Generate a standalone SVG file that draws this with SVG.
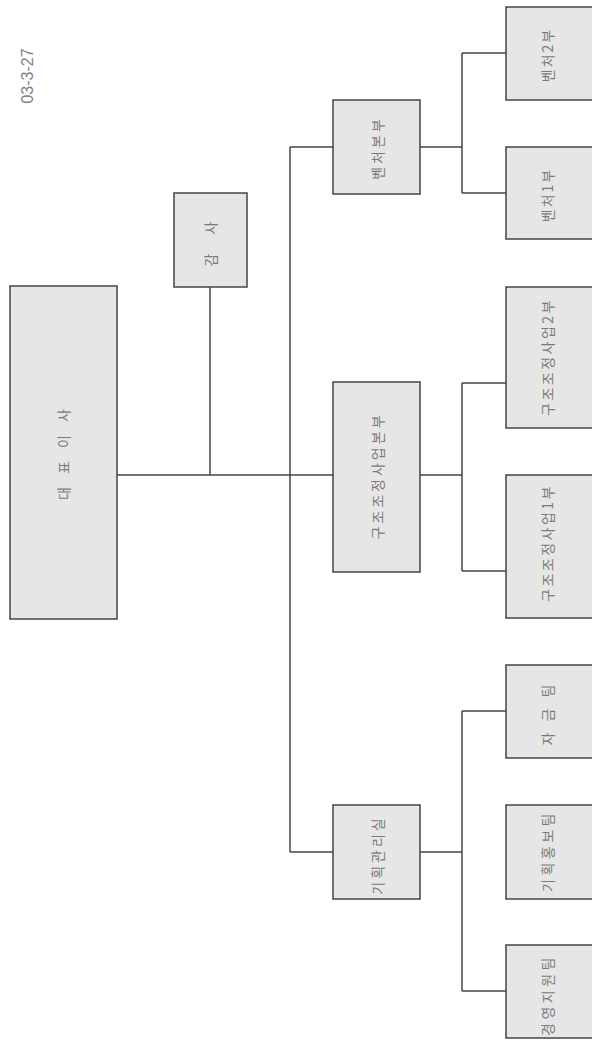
<svg xmlns="http://www.w3.org/2000/svg" width="592" height="1041" viewBox="0 0 592 1041">
<style>
.box{fill:#e6e6e6;stroke:#444;stroke-width:1.5}
.lbl{font-family:"Noto Sans CJK KR","Noto Sans",sans-serif;font-size:14px;fill:#7a7a7a;text-anchor:middle;dominant-baseline:central;letter-spacing:3px}
.con{fill:none;stroke:#444;stroke-width:1.5}
</style>
<rect width="592" height="1041" fill="#ffffff"/>
<text x="27" y="76" transform="rotate(-90 27 76)" font-family="Liberation Sans, Arial, sans-serif" font-size="16" fill="#808080" text-anchor="middle" dominant-baseline="central">03-3-27</text>
<g id="connectors">
<path class="con" d="M117 475 H290"/>
<path class="con" d="M210 287 V475"/>
<path class="con" d="M290 147 V852"/>
<path class="con" d="M290 147 H333"/>
<path class="con" d="M290 475 H333"/>
<path class="con" d="M290 852 H333"/>
<path class="con" d="M420 147 H462 M462 53 V193 M462 53 H506 M462 193 H506"/>
<path class="con" d="M420 475 H462 M462 383 V571 M462 383 H506 M462 571 H506"/>
<path class="con" d="M420 852 H462 M462 711 V991 M462 711 H506 M462 991 H506"/>
</g>
<g id="ceo"><rect class="box" x="10" y="286" width="107" height="333"/><text class="lbl" x="63" y="452" transform="rotate(-90 63 452)" style="letter-spacing:5px">대 표 이 사</text></g>
<g id="audit"><rect class="box" x="174" y="193" width="73" height="94"/><text class="lbl" x="210" y="240" transform="rotate(-90 210 240)" style="letter-spacing:8px">감 사</text></g>
<g id="venture-hq"><rect class="box" x="333" y="100" width="87" height="94"/><text class="lbl" x="377" y="148" transform="rotate(-90 377 148)">벤처본부</text></g>
<g id="restructure-hq"><rect class="box" x="333" y="382" width="87" height="190"/><text class="lbl" x="377" y="476" transform="rotate(-90 377 476)">구조조정사업본부</text></g>
<g id="planning"><rect class="box" x="333" y="805" width="87" height="94"/><text class="lbl" x="377" y="855" transform="rotate(-90 377 855)">기획관리실</text></g>
<g id="venture2"><rect class="box" x="506" y="7" width="100" height="93"/><text class="lbl" x="547" y="55" transform="rotate(-90 547 55)" style="letter-spacing:2px">벤처2부</text></g>
<g id="venture1"><rect class="box" x="506" y="147" width="100" height="92"/><text class="lbl" x="547" y="195" transform="rotate(-90 547 195)" style="letter-spacing:2px">벤처1부</text></g>
<g id="restructure2"><rect class="box" x="506" y="287" width="100" height="141"/><text class="lbl" x="547" y="357" transform="rotate(-90 547 357)" style="letter-spacing:2.5px">구조조정사업2부</text></g>
<g id="restructure1"><rect class="box" x="506" y="475" width="100" height="143"/><text class="lbl" x="547" y="543" transform="rotate(-90 547 543)" style="letter-spacing:2.5px">구조조정사업1부</text></g>
<g id="finance"><rect class="box" x="506" y="665" width="100" height="93"/><text class="lbl" x="547" y="713" transform="rotate(-90 547 713)" style="letter-spacing:4px">자 금 팀</text></g>
<g id="pr"><rect class="box" x="506" y="805" width="100" height="94"/><text class="lbl" x="547" y="851" transform="rotate(-90 547 851)" style="letter-spacing:3.5px">기획홍보팀</text></g>
<g id="support"><rect class="box" x="506" y="945" width="100" height="93"/><text class="lbl" x="547" y="995" transform="rotate(-90 547 995)" style="letter-spacing:3.5px">경영지원팀</text></g>
</svg>
